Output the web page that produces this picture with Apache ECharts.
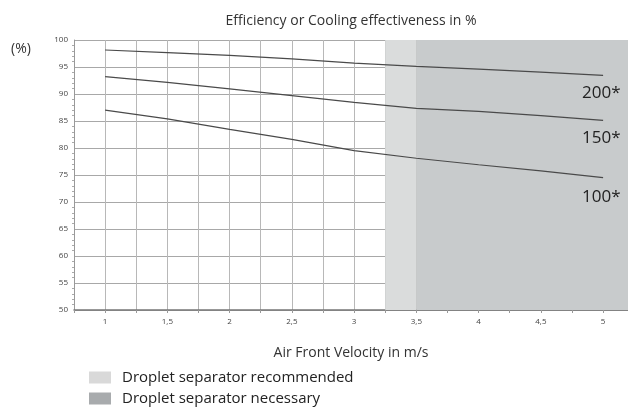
<!DOCTYPE html>
<html><head><meta charset="utf-8">
<script src="https://cdn.jsdelivr.net/npm/echarts@6/dist/echarts.min.js"></script>
<style>html,body{margin:0;padding:0;background:#fff}#c{width:628px;height:416px}</style>
</head><body><div id="c"></div>
<script>
const velocities = [1, 1.5, 2, 2.5, 3, 3.5, 4, 4.5, 5];
const eff200 = [98.15, 97.65, 97.15, 96.5, 95.7, 95.1, 94.6, 94.05, 93.45];
const eff150 = [93.2, 92.15, 90.95, 89.7, 88.45, 87.35, 86.8, 86.0, 85.1];
const eff100 = [87.0, 85.4, 83.45, 81.6, 79.5, 78.1, 76.9, 75.75, 74.5];
const seriesNames = ['200*', '150*', '100*'];
const recommendedRange = [3.25, 3.5];
const necessaryRange = [3.5, 5.2];
const legendNames = ['Droplet separator recommended', 'Droplet separator necessary'];
const titleText = 'Efficiency or Cooling effectiveness in %';
const xName = 'Air Front Velocity in m/s';
const yName = '(%)';

const FONT = '"Open Sans", sans-serif';
const chart = echarts.init(document.getElementById('c'), null, {renderer: 'canvas'});

function lineSeries(name, vals, dy) {
  return {name: name, type: 'line', data: velocities.map((v, i) => [v, vals[i]]),
    symbol: 'none', showSymbol: false, smooth: false,
    lineStyle: {color: '#4a4a4a', width: 1.2}, itemStyle: {color: '#4a4a4a'}, z: 3, silent: true,
    endLabel: {show: true, formatter: name, distance: 5, offset: [-26, dy], fontSize: 17,
      color: '#222', fontFamily: FONT}};
}

chart.setOption({
  animation: false,
  title: [
    {text: titleText, left: 346, textAlign: 'center', top: 9,
      textStyle: {fontSize: 14, fontWeight: 'normal', color: '#333', fontFamily: FONT}},
    {text: yName, left: 6, top: 37, textStyle: {fontSize: 14, fontWeight: 'normal', color: '#333', fontFamily: FONT}},
    {text: xName, left: 346, textAlign: 'center', top: 341,
      textStyle: {fontSize: 14, fontWeight: 'normal', color: '#333', fontFamily: FONT}}
  ],
  grid: {left: 74, right: 0, top: 40, bottom: 106, containLabel: false},
  legend: {
    orient: 'vertical', left: 84, top: 365, itemWidth: 22, itemHeight: 12, itemGap: 6,
    icon: 'rect', data: legendNames, selectedMode: false,
    textStyle: {fontSize: 15, color: '#222', fontFamily: FONT, padding: [0, 0, 0, 6]}
  },
  xAxis: {
    type: 'value', min: 0.75, max: 5.2, interval: 0.25,
    axisLine: {show: true, lineStyle: {color: '#777', width: 1.5}},
    axisTick: {show: true, length: 3, lineStyle: {color: '#999'}},
    axisLabel: {fontSize: 8, color: '#444', margin: 8, fontFamily: FONT, showMaxLabel: false,
      formatter: v => (v >= 1 && Math.abs(v * 2 - Math.round(v * 2)) < 1e-6 && v <= 5) ? String(v).replace('.', ',') : ''},
    splitLine: {show: true, lineStyle: {color: '#b8b8b8', width: 1}}
  },
  yAxis: {
    type: 'value', min: 50, max: 100, interval: 5,
    axisLine: {show: true, lineStyle: {color: '#999', width: 1}},
    axisTick: {show: false},
    minorTick: {show: true, splitNumber: 5, length: 2, lineStyle: {color: '#aaa'}},
    axisLabel: {fontSize: 8, color: '#444', margin: 6, fontFamily: FONT},
    splitLine: {show: true, lineStyle: {color: '#a8a8a8', width: 1}}
  },
  series: [
    {name: legendNames[0], type: 'line', data: [], z: -1, itemStyle: {color: '#d9d9d9'}, silent: true,
      markArea: {silent: true, itemStyle: {color: '#dadcdc'},
        data: [[{xAxis: recommendedRange[0]}, {xAxis: recommendedRange[1]}]]}},
    {name: legendNames[1], type: 'line', data: [], z: -1, itemStyle: {color: '#a8abad'}, silent: true,
      markArea: {silent: true, itemStyle: {color: '#c8cbcc'},
        data: [[{xAxis: necessaryRange[0]}, {xAxis: necessaryRange[1]}]]}},
    lineSeries(seriesNames[0], eff200, 18),
    lineSeries(seriesNames[1], eff150, 18),
    lineSeries(seriesNames[2], eff100, 19)
  ]
});
</script></body></html>
